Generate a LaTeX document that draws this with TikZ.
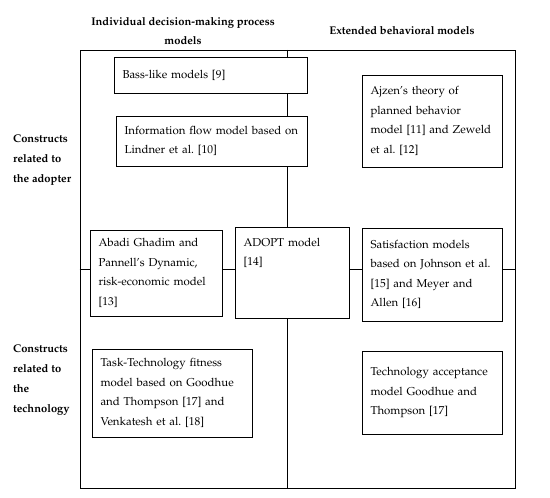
\documentclass[tikz,border=0pt]{standalone}
\usepackage[T1]{fontenc}
\usepackage{mathpazo}
\usepackage{tikz}
\pgfdeclarelayer{edgelayer}
\pgfdeclarelayer{nodelayer}
\pgfsetlayers{edgelayer,nodelayer,main}
\tikzstyle{box}=[rectangle,fill=white,draw=black,line width=0.8pt,inner xsep=8.5bp,align=left,font=\fontsize{11.5}{19.5}\selectfont\frenchspacing]
\tikzstyle{head}=[align=center,font=\fontsize{11.2}{20}\selectfont\bfseries]
\tikzstyle{side}=[align=left,anchor=west,inner sep=0pt,font=\fontsize{11.2}{20}\selectfont\bfseries]

\begin{document}
\begin{tikzpicture}[x=1bp, y=-1bp]
        \useasboundingbox (0, 0) rectangle (550, 498);
        \begin{pgfonlayer}{nodelayer}
            \node [style = head] (hdecision) at (183, 31) {Individual decision-making process\\models};
            \node [style = head] (hextended) at (402, 31) {Extended behavioral models};

            \node [style = side] (ladopter) at (13, 160) {Constructs\\related to\\the adopter};
            \node [style = side] (ltech) at (13, 380) {Constructs\\related to\\the\\technology};

            \node [style = box, minimum width=193bp, minimum height=36bp, text width=176bp] (bass) at (210.5, 75) {Bass-like models [9]};
            \node [style = box, minimum width=191bp, minimum height=50bp, text width=174bp] (infoflow) at (211.5, 141) {\mbox{Information flow model based on}\\Lindner et al. [10]};
            \node [style = box, minimum width=140bp, minimum height=92bp, text width=123bp] (ajzen) at (432, 121) {Ajzen's theory of\\planned behavior\\model [11] and Zeweld\\et al. [12]};

            \node [style = box, minimum width=132bp, minimum height=86bp, text width=115bp] (abadi) at (156, 273) {Abadi Ghadim and\\Pannell's Dynamic,\\risk-economic model\\{}[13]};
            \node [style = box, minimum width=114bp, minimum height=91bp, text width=97bp] (adopt) at (292, 272.5) {\parbox[t][69bp][t]{97bp}{ADOPT model\\{}[14]}};
            \node [style = box, minimum width=140bp, minimum height=93bp, text width=123bp] (satisf) at (432, 274.5) {Satisfaction models\\based on Johnson et al.\\{}[15] and Meyer and\\Allen [16]};

            \node [style = box, minimum width=160bp, minimum height=88bp, text width=143bp] (tasktech) at (172, 393) {Task-Technology fitness\\model based on Goodhue\\and Thompson [17] and\\Venkatesh et al. [18]};
            \node [style = box, minimum width=140bp, minimum height=83bp, text width=123bp] (techacc) at (432, 392.5) {Technology acceptance\\model Goodhue and\\Thompson [17]};
        \end{pgfonlayer}

        \begin{pgfonlayer}{edgelayer}
            \node [draw, line width=0.8pt, minimum width=435bp, minimum height=438bp, inner sep=0pt] (frame) at (297.5, 269) {};
            \coordinate (vtop) at (287, 50);
            \coordinate (vbot) at (287, 488);

            \draw [line width=0.8pt] (vtop) to (vbot);
            \draw [line width=0.8pt] (frame.west) to (frame.east);
        \end{pgfonlayer}
    \end{tikzpicture}
\end{document}
